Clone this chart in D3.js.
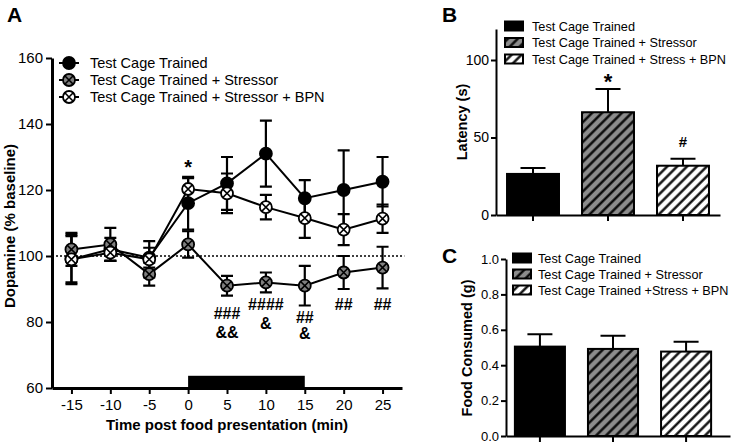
<!DOCTYPE html>
<html><head><meta charset="utf-8">
<script src="https://cdn.jsdelivr.net/npm/d3@7"></script>
<style>body{margin:0;background:#fff} svg{display:block} text{font-family:Arial,"Liberation Sans",sans-serif;fill:#000}</style>
</head><body><svg id="c" width="733" height="443"></svg>
<script>
// ---------- DATA ----------
const timePoints = [-15, -10, -5, 0, 5, 10, 15, 20, 25];
const seriesNamesA = ["Test Cage Trained", "Test Cage Trained + Stressor", "Test Cage Trained + Stressor + BPN"];
const trainedMean = [99, 102, 99.5, 116, 122, 131, 117.5, 120, 122.5];
const trainedErr  = [7.5, 3.5, 3, 8, 8, 10, 5.5, 12, 7.5];
const stressorMean = [102, 103.5, 94.5, 103.5, 91, 92, 91, 95, 96.5];
const stressorErr  = [5, 5, 3.5, 4, 3, 3, 6, 5, 6.3];
const bpnMean = [99, 101, 99, 120.3, 119, 114.8, 111.5, 108, 111.3];
const bpnErr  = [7, 2.5, 5.5, 3.3, 6, 3.7, 6, 4.7, 4.3];
const yTicksA = [60, 80, 100, 120, 140, 160];
const baselineA = 100;
const foodPeriod = [0, 15];
const foodBarTop = 63.7;
const annotA = [
  {x: 0, y: 124.7, t: "*", big: true},
  {x: 5, y: 80.9, t: "###"}, {x: 5, y: 75.2, t: "&&"},
  {x: 10, y: 83.6, t: "####"}, {x: 10, y: 77.9, t: "&"},
  {x: 15, y: 79.7, t: "##"}, {x: 15, y: 74.8, t: "&"},
  {x: 20, y: 83.6, t: "##"}, {x: 25, y: 83.6, t: "##"}
];

const groupsB = ["Test Cage Trained", "Test Cage Trained + Stressor", "Test Cage Trained + Stress + BPN"];
const latencyMean = [26.5, 66.3, 31.8];
const latencyErr  = [3.8, 15, 4.5];
const yTicksB = [0, 50, 100];
const annotB = [{i: 1, y: 81.6, t: "*", big: true}, {i: 2, y: 43.7, t: "#"}];

const groupsC = ["Test Cage Trained", "Test Cage Trained + Stressor", "Test Cage Trained +Stress + BPN"];
const foodMean = [0.505, 0.492, 0.477];
const foodErr  = [0.07, 0.075, 0.055];
const yTicksC = [0, 0.2, 0.4, 0.6, 0.8, 1.0];

// ---------- SETUP ----------
const svg = d3.select("#c");
const defs = svg.append("defs");
function hatch(id, bg) {
  const p = defs.append("pattern").attr("id", id).attr("patternUnits", "userSpaceOnUse")
    .attr("width", 7).attr("height", 7).attr("patternTransform", "rotate(45)");
  p.append("rect").attr("width", 7).attr("height", 7).attr("fill", bg);
  p.append("line").attr("x1", 1.5).attr("x2", 1.5).attr("y1", 0).attr("y2", 7)
    .attr("stroke", "#000").attr("stroke-width", 2.3);
}
hatch("hGray", "#8c8c8c");
hatch("hWhite", "#ffffff");
const barFills = ["#000", "url(#hGray)", "url(#hWhite)"];
const hyphenFmt = d => String(d);

function styleAxis(g, w, fs) {
  g.select(".domain").attr("stroke-width", w).attr("stroke", "#000");
  g.selectAll(".tick line").attr("stroke-width", 2).attr("stroke", "#000");
  g.selectAll(".tick text").attr("font-size", fs).attr("fill", "#000")
    .style("font-family", 'Arial,"Liberation Sans",sans-serif');
}

// ---------- PANEL A ----------
const xA = d3.scaleLinear().domain([-17.5, 27.5]).range([52, 402]);
const yA = d3.scaleLinear().domain([60, 160]).range([388, 58]);
const gA = svg.append("g");

gA.append("line").attr("x1", xA(-17.5)).attr("x2", xA(27.8))
  .attr("y1", yA(baselineA)).attr("y2", yA(baselineA))
  .attr("stroke", "#000").attr("stroke-width", 1.4).attr("stroke-dasharray", "2,2");

gA.append("rect").attr("x", xA(foodPeriod[0])).attr("width", xA(foodPeriod[1]) - xA(foodPeriod[0]))
  .attr("y", yA(foodBarTop)).attr("height", yA(60) - yA(foodBarTop)).attr("fill", "#000");

const seriesA = [
  {mean: trainedMean, err: trainedErr, fill: "#000", cross: false},
  {mean: stressorMean, err: stressorErr, fill: "#808080", cross: true},
  {mean: bpnMean, err: bpnErr, fill: "#fff", cross: true}
];
const R = 6;
function marker(g, cx, cy, s) {
  g.append("circle").attr("cx", cx).attr("cy", cy).attr("r", R)
    .attr("fill", s.fill).attr("stroke", "#000").attr("stroke-width", 1.8);
  if (s.cross) {
    const d = R * 0.7;
    g.append("path").attr("d", `M${cx-d},${cy-d}L${cx+d},${cy+d}M${cx-d},${cy+d}L${cx+d},${cy-d}`)
      .attr("stroke", "#000").attr("stroke-width", 1.6);
  }
}
const line = d3.line().x((d, i) => xA(timePoints[i])).y(d => yA(d));
seriesA.forEach(s => {
  gA.append("path").attr("d", line(s.mean)).attr("fill", "none").attr("stroke", "#000").attr("stroke-width", 2);
});
seriesA.forEach(s => {
  s.mean.forEach((m, i) => {
    const x = xA(timePoints[i]);
    const y0 = yA(m - s.err[i]), y1 = yA(m + s.err[i]);
    gA.append("path").attr("d", `M${x},${y0}L${x},${y1}M${x-6},${y0}L${x+6},${y0}M${x-6},${y1}L${x+6},${y1}`)
      .attr("stroke", "#000").attr("stroke-width", 2.2).attr("fill", "none");
  });
});
seriesA.forEach(s => {
  s.mean.forEach((m, i) => marker(gA, xA(timePoints[i]), yA(m), s));
});

annotA.forEach(a => {
  gA.append("text").attr("x", xA(a.x)).attr("y", yA(a.y)).attr("text-anchor", "middle")
    .attr("font-weight", "bold").attr("font-size", a.big ? 20 : 16).text(a.t);
});

const axA_y = gA.append("g").attr("transform", `translate(${xA(-17.5)},0)`)
  .call(d3.axisLeft(yA).tickValues(yTicksA).tickFormat(hyphenFmt).tickSize(6).tickSizeOuter(0).tickPadding(3));
styleAxis(axA_y, 3, 15);
const axA_x = gA.append("g").attr("transform", `translate(0,${yA(60)})`)
  .call(d3.axisBottom(xA).tickValues(timePoints).tickFormat(hyphenFmt).tickSize(6).tickSizeOuter(0).tickPadding(5));
styleAxis(axA_x, 3, 15);

gA.append("text").attr("transform", `translate(15,226) rotate(-90)`).attr("text-anchor", "middle")
  .attr("font-weight", "bold").attr("font-size", 15).text("Dopamine (% baseline)");
gA.append("text").attr("x", 227).attr("y", 430).attr("text-anchor", "middle")
  .attr("font-weight", "bold").attr("font-size", 15).text("Time post food presentation (min)");
gA.append("text").attr("x", 7).attr("y", 22).attr("font-weight", "bold").attr("font-size", 21).text("A");

seriesA.forEach((s, i) => {
  const cy = 63 + i * 17;
  gA.append("line").attr("x1", 59).attr("x2", 79).attr("y1", cy).attr("y2", cy)
    .attr("stroke", "#000").attr("stroke-width", 2);
  marker(gA, 69, cy, s);
  gA.append("text").attr("x", 90).attr("y", cy + 5).attr("font-size", 14.5).text(seriesNamesA[i]);
});

// ---------- BAR PANELS ----------
function barPanel(opt) {
  const g = svg.append("g");
  const x = d3.scaleBand().domain(d3.range(opt.mean.length)).range(opt.xr)
    .paddingInner(opt.pi).paddingOuter(opt.po).align(opt.align);
  const y = d3.scaleLinear().domain(opt.yd).range(opt.yr);
  opt.mean.forEach((m, i) => {
    const cx = x(i) + x.bandwidth() / 2;
    const top = y(m + opt.err[i]);
    g.append("path").attr("d", `M${cx},${y(m)}L${cx},${top}M${cx-12.5},${top}L${cx+12.5},${top}`)
      .attr("stroke", "#000").attr("stroke-width", 2).attr("fill", "none");
    g.append("rect").attr("x", x(i)).attr("width", x.bandwidth()).attr("y", y(m))
      .attr("height", y(opt.yd[0]) - y(m)).attr("fill", barFills[i])
      .attr("stroke", "#000").attr("stroke-width", 2);
  });
  const ay = g.append("g").attr("transform", `translate(${opt.xr[0]},0)`)
    .call(d3.axisLeft(y).tickValues(opt.ticks).tickFormat(opt.fmt).tickSize(5).tickSizeOuter(0).tickPadding(2));
  styleAxis(ay, 2, opt.tfs);
  const ax = g.append("g").attr("transform", `translate(0,${y(opt.yd[0])})`)
    .call(d3.axisBottom(x).tickSize(6).tickSizeOuter(0).tickFormat(""));
  styleAxis(ax, 2.2, 12);
  (opt.annot || []).forEach(a => {
    g.append("text").attr("x", x(a.i) + x.bandwidth() / 2).attr("y", y(a.y)).attr("text-anchor", "middle")
      .attr("font-weight", "bold").attr("font-size", a.big ? 22 : 15).text(a.t);
  });
  g.append("text").attr("transform", `translate(${opt.ylx},${opt.yly}) rotate(-90)`).attr("text-anchor", "middle")
    .attr("font-weight", "bold").attr("font-size", 14.5).text(opt.ylabel);
  g.append("text").attr("x", opt.letter[1]).attr("y", opt.letter[2]).attr("font-weight", "bold")
    .attr("font-size", 21).text(opt.letter[0]);
  opt.names.forEach((n, i) => {
    const cy = opt.leg[1] + i * opt.leg[2];
    g.append("rect").attr("x", opt.leg[0]).attr("y", cy - 4.5).attr("width", 18).attr("height", 9)
      .attr("fill", barFills[i]).attr("stroke", "#000").attr("stroke-width", 2);
    g.append("text").attr("x", opt.leg[0] + opt.leg[3]).attr("y", cy + 4.6).attr("font-size", 12.7).text(n);
  });
}

barPanel({
  mean: latencyMean, err: latencyErr, names: groupsB,
  xr: [496, 720], pi: 0.307, po: 0.147, align: 0.5,
  yd: [0, 120], yr: [215, 29], ticks: yTicksB, fmt: d3.format("d"), tfs: 14,
  annot: annotB, ylabel: "Latency (s)", ylx: 467, yly: 122,
  letter: ["B", 442, 22], leg: [505, 26, 16.5, 27]
});
barPanel({
  mean: foodMean, err: foodErr, names: groupsC,
  xr: [506, 730], pi: 0.315, po: 0.19, align: 0.32,
  yd: [0, 1], yr: [436, 259], ticks: yTicksC, fmt: d3.format(".1f"), tfs: 13,
  annot: [], ylabel: "Food Consumed (g)", ylx: 472, yly: 348,
  letter: ["C", 442, 263], leg: [513, 258, 16, 25]
});
</script></body></html>
